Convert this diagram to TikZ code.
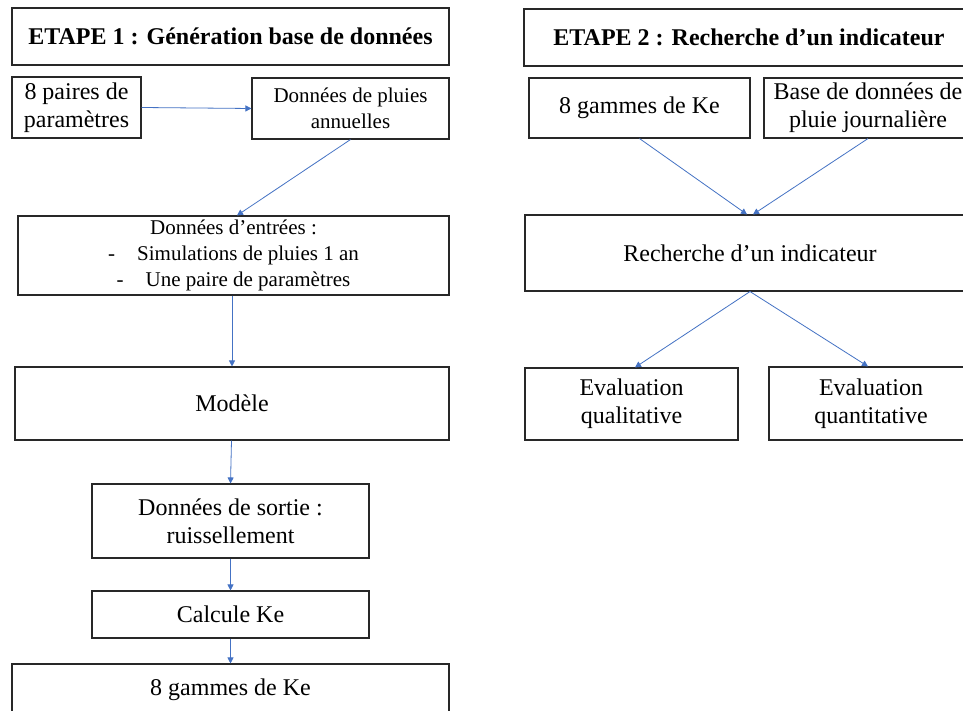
\documentclass[tikz,border=0pt]{standalone}
\usepackage{fontspec}
\setmainfont{Liberation Serif}
\usetikzlibrary{arrows.meta}
\definecolor{arrowblue}{RGB}{68,114,196}
\definecolor{boxline}{RGB}{40,40,40}
\begin{document}
\begin{tikzpicture}[x=1pt,y=-1pt,
  box/.style={draw=boxline,line width=1.1pt,rectangle,inner sep=1pt,align=center,
    font=\fontsize{24}{28}\selectfont},
  smallbox/.style={box,font=\fontsize{21}{26}\selectfont},
  titlebox/.style={box,font=\fontsize{24}{28}\selectfont\bfseries},
  flow/.style={draw=arrowblue,line width=0.8pt,-{Triangle[length=6pt,width=6pt]}}]
\useasboundingbox (0,0) rectangle (963,711);
\clip (0,0) rectangle (963,711);
\fill[white] (0,0) rectangle (963,711);
% Step 1
\node[titlebox,minimum width=437pt,minimum height=57pt] (t1) at (230.5,36.5) {ETAPE 1 : Génération base de données};
\node[box,minimum width=129pt,minimum height=61pt] (p8) at (76.5,107.5) {8 paires de\\paramètres};
\node[smallbox,minimum width=197pt,minimum height=61pt] (dp) at (350.5,108.5) {Données de pluies\\annuelles};
\node[smallbox,minimum width=431pt,minimum height=79pt] (de) at (233.5,255.5) {Données d’entrées :\\-\hspace{22pt}Simulations de pluies 1 an\\-\hspace{22pt}Une paire de paramètres};
\node[box,minimum width=434pt,minimum height=73pt] (mo) at (232,403.5) {Modèle};
\node[box,minimum width=277pt,minimum height=74pt] (ds) at (230.5,521) {Données de sortie :\\ruissellement};
\node[box,minimum width=277pt,minimum height=47pt] (ck) at (230.5,614.5) {Calcule Ke};
\node[box,minimum width=437pt,minimum height=52pt] (g8) at (230.5,690) {8 gammes de Ke};
\draw[flow] (p8.east) -- (dp.west);
\draw[flow] (dp.south) -- ([xshift=3.5pt]de.north);
\draw[flow] (de.south -| mo.north) -- (mo.north);
\draw[flow] ([xshift=-0.5pt]mo.south) -- (ds.north);
\draw[flow] (ds.south) -- (ck.north);
\draw[flow] (ck.south) -- (g8.north);
% Step 2
\node[titlebox,minimum width=450pt,minimum height=57pt] (t2) at (749,37.5) {ETAPE 2 : Recherche d’un indicateur};
\node[box,minimum width=221pt,minimum height=60pt] (k8) at (639.5,108) {8 gammes de Ke};
\node[box,minimum width=208pt,minimum height=60pt] (bd) at (868,108) {Base de données de\\pluie journalière};
\node[box,minimum width=450pt,minimum height=76pt] (re) at (750,253) {Recherche d’un indicateur};
\node[box,minimum width=213pt,minimum height=72pt] (eq) at (631.5,404) {Evaluation\\qualitative};
\node[box,minimum width=204pt,minimum height=73pt] (en) at (871,403.5) {Evaluation\\quantitative};
\draw[flow] (k8.south) -- ([xshift=-3pt]re.north);
\draw[flow] (bd.south) -- ([xshift=3pt]re.north);
\draw[flow] (re.south) -- ([xshift=3.5pt]eq.north);
\draw[flow] (re.south) -- ([xshift=-3pt]en.north);
\end{tikzpicture}
\end{document}
